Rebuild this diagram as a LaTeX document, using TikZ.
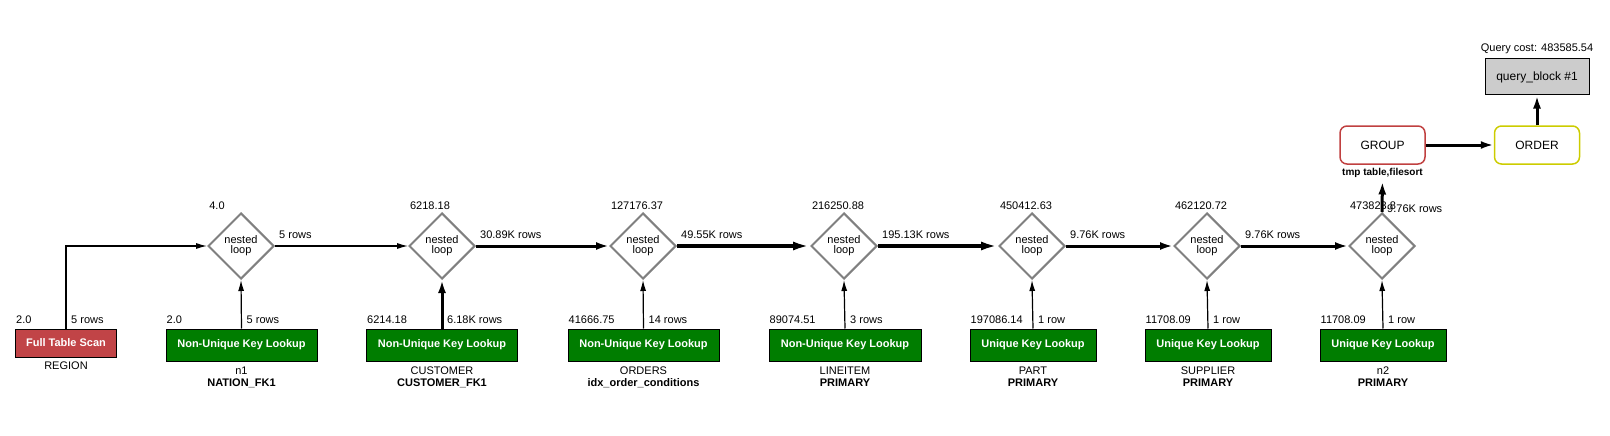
\documentclass[tikz,border=0pt]{standalone}
\usepackage{fontspec}
\setmainfont{Liberation Sans}
\usetikzlibrary{shapes.geometric,positioning,arrows.meta}
\definecolor{scanred}{RGB}{193,68,71}
\definecolor{lookgreen}{RGB}{0,125,0}
\definecolor{loopgray}{RGB}{128,128,128}
\definecolor{grpred}{RGB}{192,64,64}
\definecolor{ordyellow}{RGB}{204,204,0}
\definecolor{qbgray}{RGB}{204,204,204}

\begin{document}
\begin{tikzpicture}[x=1pt,y=-1pt,
  scan/.style = {draw, line width=1pt, fill=scanred, text=white, font=\bfseries\fontsize{11}{12}\selectfont, minimum width=101pt, minimum height=28pt, inner sep=0pt},
  lookup/.style = {draw, line width=1pt, fill=lookgreen, text=white, font=\bfseries\fontsize{11}{12}\selectfont, minimum height=32pt, inner sep=0pt},
  nest/.style = {draw=loopgray, line width=2pt, diamond, aspect=1, minimum width=66pt, minimum height=66pt, inner sep=0pt, align=center, font=\fontsize{11}{10}\selectfont},
  opbox/.style = {draw, rounded corners=7pt, line width=1.5pt, minimum width=85pt, minimum height=38pt, font=\fontsize{12}{14}\selectfont},
  qblock/.style = {draw, line width=1pt, fill=qbgray, minimum width=104pt, minimum height=36pt, font=\fontsize{12}{14}\selectfont},
  lbl/.style = {inner sep=1pt, font=\fontsize{11}{12}\selectfont},
  tbl/.style = {inner sep=1pt, align=center, font=\fontsize{11}{12}\selectfont},
  flow1/.style = {line width=1.2pt, -{Latex[length=11pt,width=6pt]}},
  flow3/.style = {line width=3pt, -{Latex[length=13pt,width=8pt]}},
  flow4/.style = {line width=4.5pt, -{Latex[length=17pt,width=9pt]}}]
\useasboundingbox (0,0) rectangle (1610,436);

% access nodes
\node[scan] (region) at (66,343) {Full Table Scan};
\node[lookup, minimum width=151pt] (nation) at (241.5,345) {Non-Unique Key Lookup};
\node[lookup, minimum width=151pt] (customer) at (442,345) {Non-Unique Key Lookup};
\node[lookup, minimum width=151pt] (orders) at (643.5,345) {Non-Unique Key Lookup};
\node[lookup, minimum width=152pt] (lineitem) at (845,345) {Non-Unique Key Lookup};
\node[lookup, minimum width=126pt] (part) at (1033,345) {Unique Key Lookup};
\node[lookup, minimum width=126pt] (supplier) at (1208,345) {Unique Key Lookup};
\node[lookup, minimum width=126pt] (n2) at (1383,345) {Unique Key Lookup};

% joins
\node[nest] (nl1) at (241,246) {nested\\loop};
\node[nest] (nl2) at (442,246) {nested\\loop};
\node[nest] (nl3) at (643,246) {nested\\loop};
\node[nest] (nl4) at (844,246) {nested\\loop};
\node[nest] (nl5) at (1032,246) {nested\\loop};
\node[nest] (nl6) at (1207,246) {nested\\loop};
\node[nest] (nl7) at (1382,246) {nested\\loop};

% top
\node[opbox, draw=grpred] (grp) at (1382.5,145) {GROUP};
\node[opbox, draw=ordyellow] (ord) at (1537,145) {ORDER};
\node[qblock] (qb) at (1537,77) {query\_block \#1};
\node[lbl, above=4pt of qb] (qcost) {Query cost: 483585.54};
\node[lbl, font=\bfseries\fontsize{10}{12}\selectfont, below=2pt of grp] (gx) {tmp table,filesort};

% table names
\node[tbl, below=3pt of region] (t0) {REGION};
\node[tbl, below=4pt of nation] (t1) {n1\\\textbf{NATION\_FK1}};
\node[tbl, below=4pt of customer] (t2) {CUSTOMER\\\textbf{CUSTOMER\_FK1}};
\node[tbl, below=4pt of orders] (t3) {ORDERS\\\textbf{idx\_order\_conditions}};
\node[tbl, below=4pt of lineitem] (t4) {LINEITEM\\\textbf{PRIMARY}};
\node[tbl, below=4pt of part] (t5) {PART\\\textbf{PRIMARY}};
\node[tbl, below=4pt of supplier] (t6) {SUPPLIER\\\textbf{PRIMARY}};
\node[tbl, below=4pt of n2] (t7) {n2\\\textbf{PRIMARY}};

% costs
\node[lbl, above right=4pt and 0pt of region.north west] (c0) {2.0};
\node[lbl, above right=4pt and 0pt of nation.north west] (c1) {2.0};
\node[lbl, above right=4pt and 0pt of customer.north west] (c2) {6214.18};
\node[lbl, above right=4pt and 0pt of orders.north west] (c3) {41666.75};
\node[lbl, above right=4pt and 0pt of lineitem.north west] (c4) {89074.51};
\node[lbl, above right=4pt and 0pt of part.north west] (c5) {197086.14};
\node[lbl, above right=4pt and 0pt of supplier.north west] (c6) {11708.09};
\node[lbl, above right=4pt and 0pt of n2.north west] (c7) {11708.09};
\node[lbl, anchor=base] (k1) at (217,209) {4.0};
\node[lbl, anchor=base] (k2) at (430,209) {6218.18};
\node[lbl, anchor=base] (k3) at (637,209) {127176.37};
\node[lbl, anchor=base] (k4) at (838,209) {216250.88};
\node[lbl, anchor=base] (k5) at (1026,209) {450412.63};
\node[lbl, anchor=base] (k6) at (1201,209) {462120.72};
\node[lbl, anchor=base] (k7) at (1373,209) {473823.8};

% row counts
\node[lbl, above right=4pt and 4pt of region.north] (r0) {5 rows};
\node[lbl, above right=4pt and 4pt of nation.north] (r1) {5 rows};
\node[lbl, above right=4pt and 4pt of customer.north] (r2) {6.18K rows};
\node[lbl, above right=4pt and 4pt of orders.north] (r3) {14 rows};
\node[lbl, above right=4pt and 4pt of lineitem.north] (r4) {3 rows};
\node[lbl, above right=4pt and 4pt of part.north] (r5) {1 row};
\node[lbl, above right=4pt and 4pt of supplier.north] (r6) {1 row};
\node[lbl, above right=4pt and 4pt of n2.north] (r7) {1 row};
\node[lbl, above right=6pt and 3pt of nl1.east] (j1) {5 rows};
\node[lbl, above right=6pt and 3pt of nl2.east] (j2) {30.89K rows};
\node[lbl, above right=6pt and 3pt of nl3.east] (j3) {49.55K rows};
\node[lbl, above right=6pt and 3pt of nl4.east] (j4) {195.13K rows};
\node[lbl, above right=6pt and 3pt of nl5.east] (j5) {9.76K rows};
\node[lbl, above right=6pt and 3pt of nl6.east] (j6) {9.76K rows};
\node[lbl, above right=-2pt and 4pt of nl7.north] (j7) {9.76K rows};

% edges
\draw[flow1] (region.north) |- (nl1.west);
\draw[flow1] (nation.north) -- (nl1.south);
\draw[flow3] (customer.north) -- (nl2.south);
\draw[flow1] (orders.north) -- (nl3.south);
\draw[flow1] (lineitem.north) -- (nl4.south);
\draw[flow1] (part.north) -- (nl5.south);
\draw[flow1] (supplier.north) -- (nl6.south);
\draw[flow1] (n2.north) -- (nl7.south);
\draw[flow1] (nl1.east) -- (nl2.west);
\draw[flow3] (nl2.east) -- (nl3.west);
\draw[flow4] (nl3.east) -- (nl4.west);
\draw[flow4] (nl4.east) -- (nl5.west);
\draw[flow3] (nl5.east) -- (nl6.west);
\draw[flow3] (nl6.east) -- (nl7.west);
\draw[flow3, shorten >=3pt] (nl7.north) -- (gx.south);
\draw[flow3] (grp) -- (ord);
\draw[flow3] (ord) -- (qb);
\end{tikzpicture}
\end{document}
